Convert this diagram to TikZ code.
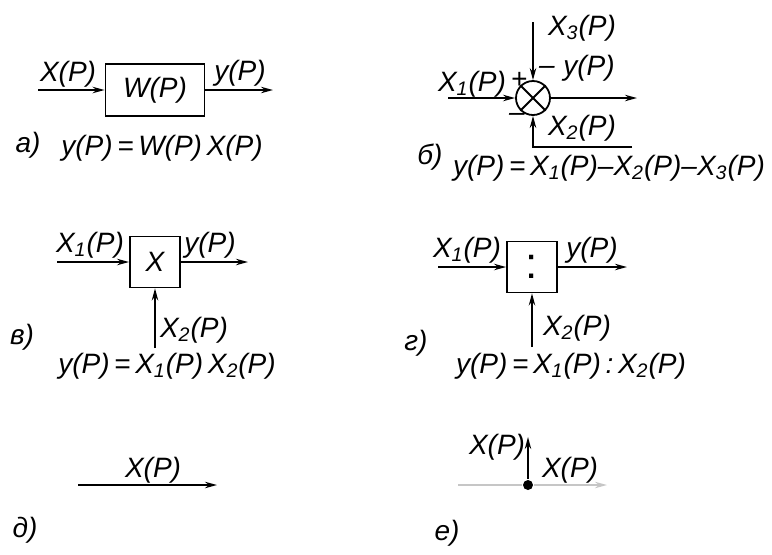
\documentclass[tikz,border=0pt]{standalone}
\usepackage{fontspec}
\setmainfont{Liberation Sans}
\usetikzlibrary{arrows.meta}
\begin{document}
\begin{tikzpicture}[x=0.5pt, y=-0.5pt, line width=0.9pt,
  every node/.style={font=\fontsize{14}{16}\selectfont\itshape},
  blk/.style={draw, inner sep=0pt},
  sig/.style={-{Stealth[length=6pt,width=3.2pt]}},
  faint/.style={draw=gray!45}]
  \useasboundingbox (0,0) rectangle (772,554);
  % a) transfer block
  \node[blk, minimum width=49.5pt, minimum height=26pt] (wa) at (155,90) {W(P)};
  \coordinate (ina) at (38,90);
  \coordinate (outa) at (273,90);
  \draw[sig] (ina) -- (wa.west);
  \draw[sig] (wa.east) -- (outa);
  \node (xa) at (68,74) {X(P)};
  \node (ya) at (240,73) {y(P)};
  \node (la) at (28,145) {а)};
  \node (fa) at (162,148) {y(P)\,=\,W(P)\,X(P)};
  % b) summing junction
  \node[draw, circle, minimum size=17pt, inner sep=0pt] (sum) at (533,98) {};
  \draw (sum.north west) -- (sum.south east);
  \draw (sum.north east) -- (sum.south west);
  \coordinate (inb) at (448,98);
  \coordinate (outb) at (637,98);
  \coordinate (topb) at (533,22);
  \coordinate (x2b) at (632,147);
  \coordinate (cornerb) at (533,147);
  \draw[sig] (inb) -- (sum);
  \draw[sig] (sum) -- (outb);
  \draw[sig] (topb) -- (sum);
  \draw[sig] (x2b) -- (cornerb) -- (sum);
  \node (xb1) at (472,84) {X\textsubscript{1}(P)};
  \node (pb) at (519,80) {+};
  \node (mb1) at (547,70) {–};
  \node (yb) at (589,68) {y(P)};
  \node (xb3) at (582,28) {X\textsubscript{3}(P)};
  \node (mb2) at (517,117) {–};
  \node (xb2) at (582,128) {X\textsubscript{2}(P)};
  \node (lb) at (430,157) {б)};
  \node (fb) at (609,168) {y(P)\,=\,X\textsubscript{1}(P)–X\textsubscript{2}(P)–X\textsubscript{3}(P)};
  % v) multiplier
  \node[blk, minimum width=25pt, minimum height=25.5pt] (mul) at (155,262) {X};
  \coordinate (inc) at (57,262);
  \coordinate (outc) at (248,262);
  \coordinate (botc) at (155,348);
  \draw[sig] (inc) -- (mul);
  \draw[sig] (mul) -- (outc);
  \draw[sig] (botc) -- (mul);
  \node (xc1) at (90,245) {X\textsubscript{1}(P)};
  \node (yc) at (210,245) {y(P)};
  \node (xc2) at (194,330) {X\textsubscript{2}(P)};
  \node (lc) at (22,337) {в)};
  \node (fc) at (167,366) {y(P)\,=\,X\textsubscript{1}(P)\,X\textsubscript{2}(P)};
  % g) divider
  \node[blk, minimum width=25pt, minimum height=25.5pt, font=\fontsize{22}{22}\selectfont] (dvd) at (532,267) {:};
  \coordinate (ind) at (438,267);
  \coordinate (outd) at (627,267);
  \coordinate (botd) at (532,347);
  \draw[sig] (ind) -- (dvd);
  \draw[sig] (dvd) -- (outd);
  \draw[sig] (botd) -- (dvd);
  \node (xd1) at (467,250) {X\textsubscript{1}(P)};
  \node (yd) at (592,250) {y(P)};
  \node (xd2) at (577,328) {X\textsubscript{2}(P)};
  \node (ld) at (416,343) {г)};
  \node (fd) at (571,366) {y(P)\,=\,X\textsubscript{1}(P)\,:\,X\textsubscript{2}(P)};
  % d) signal line
  \coordinate (ine) at (78,485);
  \coordinate (oute) at (217,485);
  \draw[sig] (ine) -- (oute);
  \node (xe) at (153,470) {X(P)};
  \node (le) at (25,530) {д)};
  % e) branch point
  \node[circle, fill, inner sep=0pt, minimum size=5pt] (br) at (528,485) {};
  \coordinate (inf) at (458,485);
  \coordinate (upf) at (528,437);
  \coordinate (outf) at (607,485);
  \draw[faint] (inf) -- (br);
  \draw[sig, faint] (br) -- (outf);
  \draw[sig] (br) -- (upf);
  \node (xf1) at (497,447) {X(P)};
  \node (xf2) at (570,470) {X(P)};
  \node (lf) at (447,533) {е)};
\end{tikzpicture}
\end{document}
